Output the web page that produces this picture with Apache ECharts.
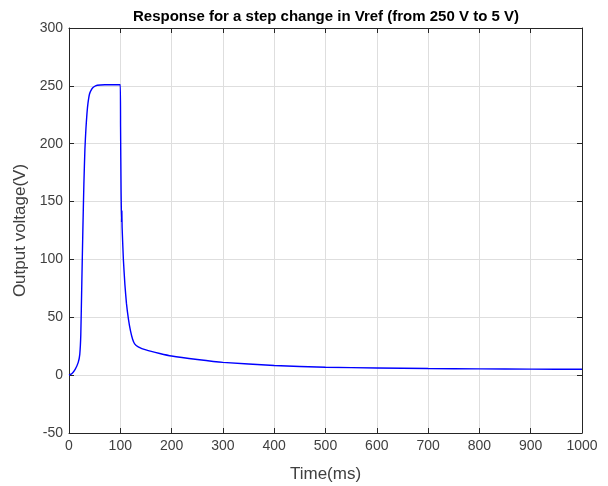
<!DOCTYPE html>
<html>
<head>
<meta charset="utf-8">
<script src="https://cdn.jsdelivr.net/npm/echarts@6/dist/echarts.min.js"></script>
<style>
  html, body { margin: 0; padding: 0; background: #fff; }
  #chart { width: 608px; height: 486px; }
</style>
</head>
<body>
<div id="chart"></div>
<script>
// step response (ms, V)
const timeMs = [0, 6, 12, 18, 21, 23, 25, 27, 29, 31, 33, 35, 37, 40, 44, 48, 55, 70, 100,
  100.5, 101.5, 102.5, 103, 103.5, 106, 109, 112, 116, 120, 124, 128, 135, 150, 177,
  200, 250, 300, 400, 500, 600, 700, 800, 900, 1000];
const voltage = [0, 1.5, 5, 11, 18, 35, 80, 125, 165, 195, 213, 226, 235, 243, 247, 249, 250.5, 251, 251,
  215, 160, 132, 142, 128, 100, 78, 62, 48, 38, 31, 27, 24.5, 21.8, 18.7,
  16.5, 13.5, 11, 8.3, 6.8, 6.2, 5.7, 5.4, 5.2, 5.1];

const xTicks = { min: 0, max: 1000, interval: 100 };
const yTicks = { min: -50, max: 300, interval: 50 };

const chart = echarts.init(document.getElementById('chart'));
const font = 'Liberation Sans, Arial, sans-serif';
const axisColor = '#262626';
const labelColor = '#404040';
const gridColor = '#dedede';

const points = timeMs.map((t, i) => [t, voltage[i]]);

function boxAxis(pos, extra) {
  return Object.assign({
    type: 'value',
    position: pos,
    axisLine: { show: true, onZero: false, lineStyle: { color: axisColor, width: 1 } },
    axisTick: { show: true, inside: true, length: 5, lineStyle: { color: axisColor } },
    axisLabel: { show: false },
    splitLine: { show: false }
  }, extra);
}

const option = {
  backgroundColor: '#fff',
  animation: false,
  title: {
    text: 'Response for a step change in Vref (from 250 V to 5 V)',
    left: 321,
    top: 4,
    textAlign: 'center',
    textStyle: { fontFamily: font, fontSize: 15, fontWeight: 'bold', color: '#000' }
  },
  grid: { left: 69, right: 26, top: 28, bottom: 53, outerBoundsMode: 'none', containLabel: false },
  xAxis: [
    boxAxis('bottom', Object.assign({
      name: 'Time(ms)',
      nameLocation: 'middle',
      nameGap: 33,
      nameTextStyle: { fontFamily: font, fontSize: 17, color: labelColor },
      axisLabel: { show: true, fontFamily: font, fontSize: 14, color: labelColor, margin: 6,
        formatter: v => String(v) },
      splitLine: { show: true, lineStyle: { color: gridColor, width: 1 } }
    }, xTicks)),
    boxAxis('top', Object.assign({}, xTicks))
  ],
  yAxis: [
    boxAxis('left', Object.assign({
      name: 'Output voltage(V)',
      nameLocation: 'middle',
      nameGap: 38,
      nameTextStyle: { fontFamily: font, fontSize: 17, color: labelColor },
      axisLabel: { show: true, fontFamily: font, fontSize: 14, color: labelColor, margin: 6 },
      splitLine: { show: true, lineStyle: { color: gridColor, width: 1 } }
    }, yTicks)),
    boxAxis('right', Object.assign({}, yTicks))
  ],
  series: [{
    type: 'line',
    data: points,
    showSymbol: false,
    smooth: 0.15,
    lineStyle: { color: '#0000ff', width: 1.4 }
  }]
};
chart.setOption(option);
</script>
</body>
</html>
